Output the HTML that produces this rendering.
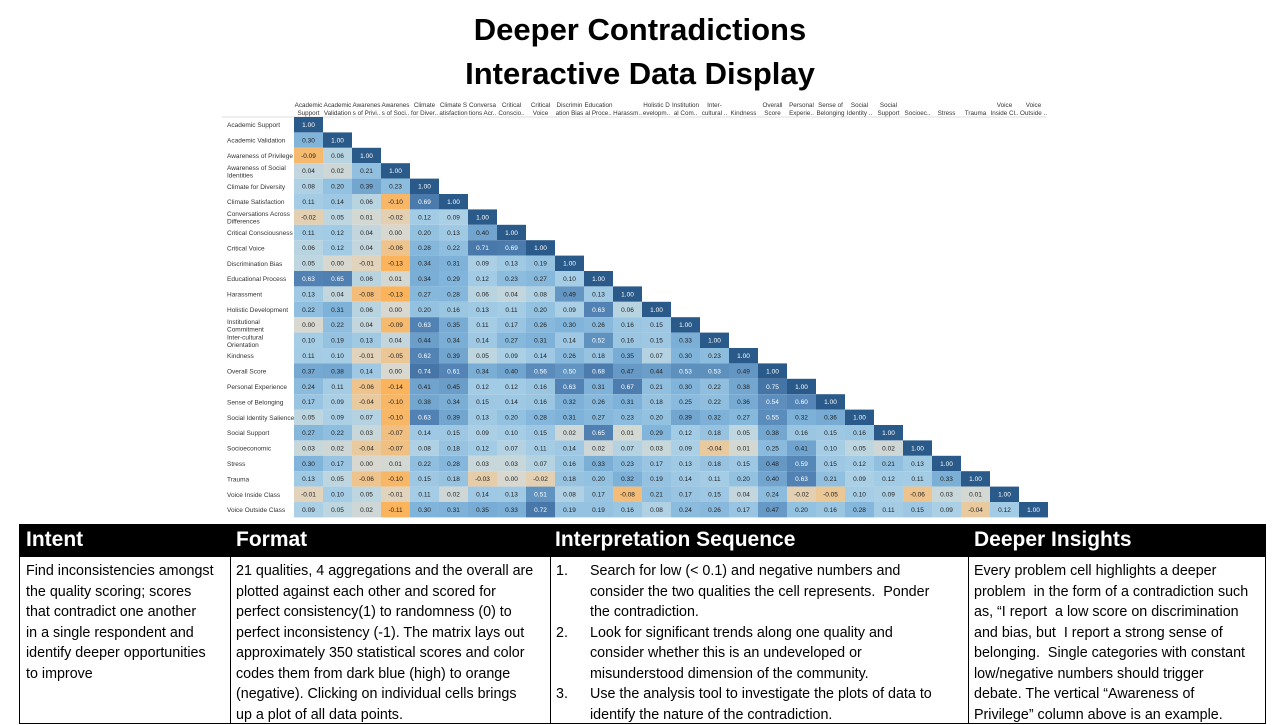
<!DOCTYPE html>
<html><head><meta charset="utf-8">
<style>
body{margin:0;width:1280px;height:720px;overflow:hidden;background:#fff;font-family:"Liberation Sans",Arial,sans-serif;position:relative}
.title{position:absolute;left:0;width:1280px;text-align:center;font-weight:bold;font-size:31px;color:#000}
#chart{position:absolute;left:0;top:0}
.tbl{position:absolute;left:19px;top:524px;width:1247px;height:200px;border:1px solid #000;box-sizing:border-box}
.hdr{position:absolute;left:0;top:0;width:100%;height:32px;background:#000}
.hc{position:absolute;top:3px;color:#fff;font-weight:bold;font-size:21px}
.col{position:absolute;top:32px;bottom:0;border-left:1px solid #000}
.bt{position:absolute;top:36px;font-size:14.3px;line-height:20.5px;color:#000;white-space:nowrap}
.li{position:relative;padding-left:34px}
.li span{position:absolute;left:0}
</style></head><body>
<div class="title" style="top:12px">Deeper Contradictions</div>
<div class="title" style="top:56px">Interactive Data Display</div>
<svg id="chart" width="1280" height="524"></svg>

<div class="tbl">
 <div class="hdr">
  <div class="hc" style="left:6px">Intent</div>
  <div class="hc" style="left:216px">Format</div>
  <div class="hc" style="left:535px">Interpretation Sequence</div>
  <div class="hc" style="left:954px">Deeper Insights</div>
 </div>
 <div class="col" style="left:210px"></div>
 <div class="col" style="left:530px"></div>
 <div class="col" style="left:948px"></div>
 <div class="bt" style="left:6px">Find inconsistencies amongst<br>the quality scoring; scores<br>that contradict one another<br>in a single respondent and<br>identify deeper opportunities<br>to improve</div>
 <div class="bt" style="left:216px">21 qualities, 4 aggregations and the overall are<br>plotted against each other and scored for<br>perfect consistency(1) to randomness (0) to<br>perfect inconsistency (-1). The matrix lays out<br>approximately 350 statistical scores and color<br>codes them from dark blue (high) to orange<br>(negative). Clicking on individual cells brings<br>up a plot of all data points.</div>
 <div class="bt" style="left:536px">
  <div class="li"><span>1.</span>Search for low (&lt; 0.1) and negative numbers and<br>consider the two qualities the cell represents.&nbsp; Ponder<br>the contradiction.</div>
  <div class="li"><span>2.</span>Look for significant trends along one quality and<br>consider whether this is an undeveloped or<br>misunderstood dimension of the community.</div>
  <div class="li"><span>3.</span>Use the analysis tool to investigate the plots of data to<br>identify the nature of the contradiction.</div>
 </div>
 <div class="bt" style="left:954px">Every problem cell highlights a deeper<br>problem&nbsp; in the form of a contradiction such<br>as, “I report&nbsp; a low score on discrimination<br>and bias, but&nbsp; I report a strong sense of<br>belonging.&nbsp; Single categories with constant<br>low/negative numbers should trigger<br>debate. The vertical “Awareness of<br>Privilege” column above is an example.</div>
</div>

<script>
const rowLabels=["Academic Support","Academic Validation","Awareness of Privilege","Awareness of Social|Identities","Climate for Diversity","Climate Satisfaction","Conversations Across|Differences","Critical Consciousness","Critical Voice","Discrimination Bias","Educational Process","Harassment","Holistic Development","Institutional|Commitment","Inter-cultural|Orientation","Kindness","Overall Score","Personal Experience","Sense of Belonging","Social Identity Salience","Social Support","Socioeconomic","Stress","Trauma","Voice Inside Class","Voice Outside Class"];
const colLabels=["Academic|Support","Academic|Validation","Awarenes|s of Privi..","Awarenes|s of Soci..","Climate|for Diver..","Climate S|atisfaction","Conversa|tions Acr..","Critical|Conscio..","Critical|Voice","Discrimin|ation Bias","Education|al Proce..","|Harassm..","Holistic D|evelopm..","Institution|al Com..","Inter-|cultural ..","|Kindness","Overall|Score","Personal|Experie..","Sense of|Belonging","Social|Identity ..","Social|Support","|Socioec..","|Stress","|Trauma","Voice|Inside Cl..","Voice|Outside .."];
const values=[
[1],
[0.30,1],
[-0.09,0.06,1],
[0.04,0.02,0.21,1],
[0.08,0.20,0.39,0.23,1],
[0.11,0.14,0.06,-0.10,0.69,1],
[-0.02,0.05,0.01,-0.02,0.12,0.09,1],
[0.11,0.12,0.04,0.00,0.20,0.13,0.40,1],
[0.06,0.12,0.04,-0.06,0.28,0.22,0.71,0.69,1],
[0.05,0.00,-0.01,-0.13,0.34,0.31,0.09,0.13,0.19,1],
[0.63,0.65,0.06,0.01,0.34,0.29,0.12,0.23,0.27,0.10,1],
[0.13,0.04,-0.08,-0.13,0.27,0.28,0.06,0.04,0.08,0.49,0.13,1],
[0.22,0.31,0.06,0.00,0.20,0.16,0.13,0.11,0.20,0.09,0.63,0.06,1],
[0.00,0.22,0.04,-0.09,0.63,0.35,0.11,0.17,0.26,0.30,0.26,0.16,0.15,1],
[0.10,0.19,0.13,0.04,0.44,0.34,0.14,0.27,0.31,0.14,0.52,0.16,0.15,0.33,1],
[0.11,0.10,-0.01,-0.05,0.62,0.39,0.05,0.09,0.14,0.26,0.18,0.35,0.07,0.30,0.23,1],
[0.37,0.38,0.14,0.00,0.74,0.61,0.34,0.40,0.56,0.50,0.68,0.47,0.44,0.53,0.53,0.49,1],
[0.24,0.11,-0.06,-0.14,0.41,0.45,0.12,0.12,0.16,0.63,0.31,0.67,0.21,0.30,0.22,0.38,0.75,1],
[0.17,0.09,-0.04,-0.10,0.38,0.34,0.15,0.14,0.16,0.32,0.26,0.31,0.18,0.25,0.22,0.36,0.54,0.60,1],
[0.05,0.09,0.07,-0.10,0.63,0.39,0.13,0.20,0.28,0.31,0.27,0.23,0.20,0.39,0.32,0.27,0.55,0.32,0.36,1],
[0.27,0.22,0.03,-0.07,0.14,0.15,0.09,0.10,0.15,0.02,0.65,0.01,0.29,0.12,0.18,0.05,0.38,0.16,0.15,0.16,1],
[0.03,0.02,-0.04,-0.07,0.08,0.18,0.12,0.07,0.11,0.14,0.02,0.07,0.03,0.09,-0.04,0.01,0.25,0.41,0.10,0.05,0.02,1],
[0.30,0.17,0.00,0.01,0.22,0.28,0.03,0.03,0.07,0.16,0.33,0.23,0.17,0.13,0.18,0.15,0.48,0.59,0.15,0.12,0.21,0.13,1],
[0.13,0.05,-0.06,-0.10,0.15,0.18,-0.03,0.00,-0.02,0.18,0.20,0.32,0.19,0.14,0.11,0.20,0.40,0.63,0.21,0.09,0.12,0.11,0.33,1],
[-0.01,0.10,0.05,-0.01,0.11,0.02,0.14,0.13,0.51,0.08,0.17,-0.08,0.21,0.17,0.15,0.04,0.24,-0.02,-0.05,0.10,0.09,-0.06,0.03,0.01,1],
[0.09,0.05,0.02,-0.11,0.30,0.31,0.35,0.33,0.72,0.19,0.19,0.16,0.08,0.24,0.26,0.17,0.47,0.20,0.16,0.28,0.11,0.15,0.09,-0.04,0.12,1]
];
const svg=document.getElementById('chart');
const NS='http://www.w3.org/2000/svg';
const X0=294,CW=29,Y0=117,RH=15.4;
const xPos=i=>X0+i*CW, yPos=j=>Y0+j*RH;
function lerp(a,b,t){return a.map((v,i)=>Math.round(v+(b[i]-v)*t));}
const stops=[[0,[216,216,208]],[0.05,[190,214,224]],[0.1,[166,205,230]],[0.3,[128,180,218]],[0.6,[84,133,182]],[1,[42,90,138]]];
function color(v){
 if(v<0){const t=Math.min(1,-v/0.11);const c=lerp([222,214,198],[251,180,92],t);return `rgb(${c})`;}
 for(let k=1;k<stops.length;k++){if(v<=stops[k][0]){const t=(v-stops[k-1][0])/(stops[k][0]-stops[k-1][0]);return `rgb(${lerp(stops[k-1][1],stops[k][1],t)})`;}}
 return `rgb(${stops[stops.length-1][1]})`;
}
function txt(x,y,s,size,anchor,fill){const t=document.createElementNS(NS,'text');t.setAttribute('x',x);t.setAttribute('y',y);t.setAttribute('font-size',size);t.setAttribute('text-anchor',anchor);t.setAttribute('fill',fill);t.setAttribute('font-family','Liberation Sans, Arial, sans-serif');t.textContent=s;return t;}
const hl=document.createElementNS(NS,'line');
hl.setAttribute('x1',222);hl.setAttribute('x2',1046);hl.setAttribute('y1',117);hl.setAttribute('y2',117);hl.setAttribute('stroke','#ddd');


svg.appendChild(hl);
colLabels.forEach((l,i)=>{
 const parts=l.split('|');
 const g=document.createElementNS(NS,'g');
 
 
 g.appendChild(txt(xPos(i)+CW/2,107,parts[0],6.3,'middle','#333'));
 g.appendChild(txt(xPos(i)+CW/2,115,parts[1],6.3,'middle','#333'));
 svg.appendChild(g);
});
rowLabels.forEach((l,j)=>{
 const parts=l.split('|');
 const g=document.createElementNS(NS,'g');
 
 
 if(parts.length==1){g.appendChild(txt(227,yPos(j)+RH/2+2.5,parts[0],6.5,'start','#333'));}
 else{g.appendChild(txt(227,yPos(j)+RH/2-1,parts[0],6.5,'start','#333'));g.appendChild(txt(227,yPos(j)+RH/2+6.5,parts[1],6.5,'start','#333'));}
 svg.appendChild(g);
});
values.forEach((row,j)=>{
 row.forEach((v,i)=>{
  const g=document.createElementNS(NS,'g');
  
  
  const r=document.createElementNS(NS,'rect');
  r.setAttribute('x',xPos(i));r.setAttribute('y',yPos(j));r.setAttribute('width',CW);r.setAttribute('height',RH);
  r.setAttribute('fill',color(v));
  g.appendChild(r);
  const light=v>=0.5;
  g.appendChild(txt(xPos(i)+CW/2,yPos(j)+RH/2+2.3,v.toFixed(2),6.5,'middle',light?'#fff':'#222'));
  svg.appendChild(g);
 });
});
</script>
</body></html>
